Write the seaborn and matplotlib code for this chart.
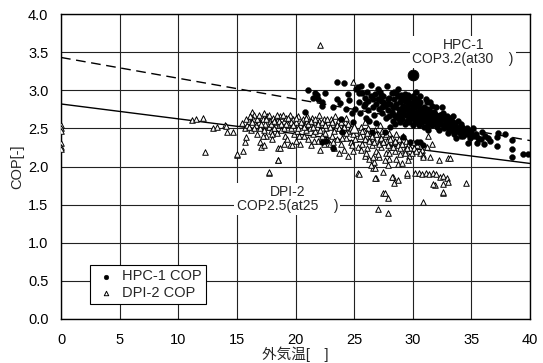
import matplotlib
matplotlib.use("Agg")
import matplotlib.pyplot as plt
import seaborn as sns
import pandas as pd

# ---------------- data ----------------
hpc_points = [
    (20.8,2.71),(21.1,3.00),(21.5,2.90),(21.7,2.96),(21.8,2.94),(22.3,2.85),(22.3,2.79),(22.5,2.96),(22.3,2.32),(22.6,2.34),(21.9,2.88),
    (23.2,2.24),(23.5,3.11),(24.1,3.10),(23.5,2.88),(23.8,2.83),(24.6,2.87),(24.3,2.76),(23.9,2.62),(24.8,2.70),(24.5,2.95),(23.2,2.78),(24.0,2.45),(24.9,2.58),
    (25.3,3.04),(25.7,2.96),(25.2,3.02),(25.6,3.06),(25.9,2.90),(26.4,3.07),(26.1,2.98),(25.4,2.85),(25.8,2.80),(26.2,2.74),(26.6,2.88),(26.8,2.95),(25.5,2.70),
    (26.0,2.64),(26.5,2.45),(26.9,2.82),(26.3,2.60),(25.1,2.76),(26.7,2.68),(27.0,3.02),(26.9,2.57),
    (27.2,2.98),(27.5,2.92),(27.8,3.05),(27.3,2.86),(27.6,2.80),(27.9,2.74),(28.2,2.96),(28.4,2.88),(28.7,2.92),(28.1,2.82),(28.5,2.78),(28.8,2.70),(27.4,2.70),
    (27.7,2.63),(28.0,2.66),(28.3,2.60),(28.6,2.65),(28.9,2.85),(27.6,2.45),(28.1,2.52),(28.9,2.58),(29.0,2.75),(29.2,2.39),(27.1,2.76),(28.4,2.98),(28.7,3.02),
    (29.1,2.92),(29.3,2.86),(29.5,2.80),(29.7,2.90),(29.9,2.76),(29.2,2.72),(29.4,2.68),(29.6,2.74),(29.8,2.64),(30.0,2.84),(30.2,2.78),(30.4,2.72),(30.6,2.68),
    (30.1,2.62),(30.3,2.66),(30.5,2.82),(30.7,2.76),(30.9,2.70),(29.5,2.60),(29.9,2.70),(30.2,2.58),(30.6,2.60),(30.8,2.64),(31.0,2.74),(29.3,2.95),(30.0,2.92),
    (30.4,2.88),(29.8,2.32),(30.4,2.32),(30.6,2.32),(30.9,2.28),(30.0,2.55),(29.6,2.85),(30.3,2.98),
    (31.2,2.85),(31.1,2.68),(31.3,2.62),(31.5,2.72),(31.7,2.66),(31.9,2.60),(31.4,2.58),(31.6,2.55),(31.8,2.70),(32.0,2.64),(32.2,2.58),(32.4,2.62),(32.5,2.78),
    (32.6,2.55),(32.8,2.60),(33.0,2.52),(31.2,2.76),(32.1,2.52),(32.3,2.68),(32.7,2.50),(33.2,2.58),(31.0,2.52),(31.6,2.80),(32.9,2.66),(31.3,2.48),
    (33.4,2.55),(33.6,2.50),(33.8,2.46),(34.0,2.52),(34.2,2.48),(34.4,2.44),(34.6,2.50),(33.5,2.42),(33.9,2.60),(34.3,2.40),(34.7,2.31),(34.8,2.44),(35.0,2.45),
    (35.2,2.40),(35.5,2.31),(35.9,2.45),(36.1,2.30),(33.3,2.64),(34.1,2.56),(35.1,2.50),(33.7,2.38),
    (37.2,2.39),(37.2,2.27),(37.3,2.44),(37.9,2.43),(38.5,2.35),(38.5,2.23),(38.5,2.12),(39.4,2.16),(39.8,2.16),(36.4,2.38),(36.6,2.34),
    (28.2,2.72),(28.4,2.68),(28.6,2.82),(28.8,2.76),(29.0,2.66),(29.0,2.88),(29.2,2.80),(29.4,2.76),(29.4,2.90),(29.6,2.66),(29.6,2.94),(29.8,2.82),(29.8,2.72),
    (30.0,2.66),(30.0,2.78),(30.2,2.70),(30.2,2.86),(30.4,2.62),(30.4,2.80),(30.6,2.74),(30.6,2.84),(30.8,2.76),(30.8,2.58),(31.0,2.62),(31.0,2.78),(31.2,2.70),
    (31.2,2.58),(31.4,2.66),(31.4,2.74),(31.6,2.62),(31.8,2.58),(31.8,2.72),(32.0,2.68),(32.0,2.56),(32.2,2.64),(32.4,2.56),(32.4,2.68),(32.6,2.62),(32.8,2.54),
    (32.8,2.64),(33.0,2.58),(33.2,2.50),(33.4,2.58),(33.6,2.54),(33.8,2.50),(34.0,2.44),(34.2,2.52),(34.4,2.48),(34.6,2.42),(34.8,2.46),(33.1,2.46),(33.5,2.46),
    (29.1,2.62),(29.3,2.56),(28.5,2.56),(27.9,2.88),(27.5,2.84),(27.3,2.94),(26.4,2.92),(25.9,2.82),(25.4,2.96),(26.2,2.86),(28.0,2.90),(28.6,2.96),(29.0,2.94),
    (29.5,2.88),(30.1,2.90),(30.6,2.92),(31.1,2.88),(31.5,2.84),(32.0,2.78),(32.6,2.70),(33.4,2.66),(35.4,2.42),(35.6,2.38),(35.8,2.36),(36.2,2.40),(34.9,2.38),
    (26.6,2.78),(27.0,2.88),(27.4,2.78),(27.8,2.82),(28.3,2.78),(28.8,2.62),(29.7,2.58),(30.5,2.54),(31.3,2.54),(32.2,2.48),(33.0,2.44),(34.1,2.40),
]
dpi_points = [
    (0,2.55),(0,2.51),(0,2.46),(0,2.31),(0,2.26),(0,2.23),
    (11.2,2.61),(11.5,2.62),(12.1,2.63),(12.3,2.19),(13.0,2.51),(13.3,2.52),(14.0,2.54),(14.1,2.53),(14.2,2.45),(14.7,2.45),(15.0,2.15),(15.0,2.16),(15.5,2.20),(15.4,2.57),
    (15.7,2.32),(15.8,2.39),(15.7,2.50),(15.9,2.55),(16.0,2.60),(16.3,2.71),(16.5,2.68),(16.4,2.62),(16.6,2.55),(16.2,2.48),(16.8,2.64),(16.9,2.58),(17.0,2.50),
    (17.0,2.32),(17.1,2.26),(17.3,2.28),(17.5,2.40),(17.2,2.62),(17.4,2.56),(17.6,2.66),(17.8,2.60),(17.7,2.52),(17.9,2.46),(17.7,1.91),(17.7,1.93),(16.7,2.42),
    (16.1,2.66),(17.3,2.70),
    (18.1,2.64),(18.3,2.58),(18.5,2.62),(18.7,2.66),(18.2,2.50),(18.4,2.44),(18.6,2.54),(18.8,2.48),(19.0,2.60),(19.2,2.64),(19.4,2.56),(19.6,2.50),(19.8,2.62),
    (20.0,2.58),(20.2,2.66),(18.5,2.24),(18.7,2.24),(18.5,2.09),(18.5,2.08),(19.5,2.28),(19.7,2.28),(19.1,2.40),(19.3,2.36),(19.9,2.42),(20.1,2.46),(20.3,2.40),
    (18.9,2.68),(19.5,2.68),(20.4,2.54),
    (20.6,2.62),(20.8,2.56),(21.0,2.60),(21.2,2.50),(21.4,2.64),(21.6,2.58),(21.8,2.52),(22.0,2.60),(22.2,2.56),(22.4,2.62),(22.6,2.50),(22.8,2.58),(20.7,2.40),
    (21.1,2.36),(21.5,2.42),(21.9,2.34),(22.3,2.40),(22.7,2.36),(21.3,2.28),(22.1,2.22),(22.9,2.30),(20.9,2.48),(21.7,2.46),(22.5,2.44),(22.1,3.59),(21.0,2.66),
    (22.0,2.68),
    (23.0,2.62),(23.2,2.56),(23.4,2.50),(23.6,2.60),(23.8,2.54),(24.0,2.48),(24.2,2.58),(24.4,2.52),(24.6,2.46),(24.8,2.56),(25.0,2.50),(25.2,2.44),(23.1,2.40),
    (23.5,2.36),(23.9,2.30),(24.3,2.38),(24.7,2.32),(25.1,2.36),(23.3,2.24),(23.7,2.18),(24.1,2.22),(24.5,2.14),(24.9,2.20),(25.3,2.26),(24.9,3.11),(25.3,1.91),
    (25.4,1.90),(23.4,2.66),(24.3,2.64),
    (25.6,2.52),(25.8,2.46),(26.0,2.40),(26.2,2.50),(26.4,2.44),(26.6,2.38),(26.8,2.48),(27.0,2.42),(27.2,2.36),(27.4,2.46),(27.6,2.40),(27.8,2.34),(25.7,2.30),
    (26.1,2.24),(26.5,2.28),(26.9,2.20),(27.3,2.26),(27.7,2.18),(25.9,2.14),(26.3,2.10),(26.7,2.06),(27.1,2.12),(27.5,1.93),(26.6,1.98),(26.8,1.98),(26.9,1.85),
    (27.5,1.65),(27.6,1.65),(27.9,1.59),(27.0,1.44),(27.9,1.39),(26.8,1.85),(25.9,2.58),(27.2,2.55),(27.9,2.02),(26.4,2.02),
    (28.0,2.44),(28.2,2.38),(28.4,2.32),(28.6,2.42),(28.8,2.36),(29.0,2.30),(29.2,2.40),(29.4,2.34),(29.6,2.28),(29.8,2.24),(30.0,2.32),(28.1,2.26),(28.5,2.20),
    (28.9,2.16),(29.3,2.22),(29.7,2.14),(28.3,1.86),(28.2,1.86),(28.7,2.03),(28.7,1.82),(28.4,1.78),(29.5,1.89),(29.5,1.91),(30.2,1.91),(28.0,2.10),(29.1,2.05),
    (30.4,2.28),(30.8,2.22),(31.2,2.26),(30.6,2.18),(30.9,2.15),(30.9,2.13),(31.5,2.13),(31.6,2.30),(32.2,2.09),(33.0,2.11),(33.2,2.11),(30.5,1.91),(30.8,1.90),
    (31.1,1.91),(31.4,1.90),(31.7,1.92),(32.0,1.90),(32.3,1.86),(32.6,1.88),(32.9,1.85),(33.0,1.80),(31.9,1.76),(31.7,1.77),(32.6,1.77),(32.6,1.65),(32.6,1.67),
    (34.5,1.78),(30.9,1.53),(31.3,2.40),
    (16.3,2.58),(16.5,2.50),(16.7,2.62),(16.9,2.68),(17.1,2.56),(17.3,2.48),(17.5,2.62),(17.7,2.68),(17.9,2.56),(18.0,2.42),(18.2,2.60),(18.4,2.68),(18.6,2.60),
    (18.8,2.56),(19.0,2.50),(19.2,2.56),(19.4,2.64),(19.6,2.58),(19.8,2.54),(20.0,2.64),(20.2,2.50),(16.0,2.52),(15.8,2.62),(17.2,2.40),(18.0,2.36),(19.0,2.30),
    (20.0,2.34),
    (20.5,2.58),(20.7,2.52),(20.9,2.64),(21.1,2.56),(21.3,2.60),(21.5,2.52),(21.7,2.62),(21.9,2.56),(22.1,2.48),(22.3,2.58),(22.5,2.54),(22.7,2.62),(22.9,2.52),
    (23.1,2.58),(23.3,2.46),(23.5,2.54),(23.7,2.50),(23.9,2.58),(24.1,2.52),(24.3,2.44),(24.5,2.56),(24.7,2.50),(24.9,2.42),(21.6,2.34),(22.4,2.30),(23.2,2.32),
    (24.0,2.38),(24.8,2.28),(20.4,2.30),
    (25.5,2.40),(25.7,2.46),(25.9,2.36),(26.1,2.44),(26.3,2.34),(26.5,2.40),(26.7,2.32),(26.9,2.42),(27.1,2.30),(27.3,2.38),(27.5,2.32),(27.7,2.42),(27.9,2.28),
    (28.1,2.36),(28.3,2.26),(28.5,2.34),(28.7,2.28),(28.9,2.24),(29.1,2.30),(29.3,2.18),(29.5,2.24),(29.9,2.18),(30.1,2.24),(26.0,2.18),(27.0,2.16),(28.0,2.18),
    (25.6,2.22),(26.6,2.12),(27.6,2.08),(28.6,2.10),(29.6,2.08),(30.3,2.20),
]
hpc_rated = (30, 3.2)
dpi_rated = (25, 2.5)
fit_x = [0, 40]
hpc_fit = [3.43, 2.34]
dpi_fit = [2.82, 2.04]

x_ticks = [0, 5, 10, 15, 20, 25, 30, 35, 40]
y_ticks = [0.0, 0.5, 1.0, 1.5, 2.0, 2.5, 3.0, 3.5, 4.0]

hpc_df = pd.DataFrame(hpc_points, columns=["temp", "cop"])
dpi_df = pd.DataFrame(dpi_points, columns=["temp", "cop"])

# ---------------- plot ----------------
sns.set_style("white")
plt.rcParams["font.family"] = ["Liberation Sans", "Noto Sans CJK JP", "DejaVu Sans"]

fig = plt.figure(figsize=(5.43, 3.63), dpi=100)
ax = fig.add_axes([61/543, 1-319/363, 469/543, 305/363])

sns.lineplot(x=fit_x, y=hpc_fit, ax=ax, color="black", lw=1.0, linestyle=(0, (7, 4)), legend=False, zorder=2)
sns.lineplot(x=fit_x, y=dpi_fit, ax=ax, color="black", lw=1.0, legend=False, zorder=2)

sns.scatterplot(data=dpi_df, x="temp", y="cop", ax=ax, marker="^", s=16,
                facecolor="white", edgecolor="black", linewidth=0.7, label="DPI-2 COP", zorder=3)
sns.scatterplot(data=hpc_df, x="temp", y="cop", ax=ax, marker="o", s=18,
                color="black", edgecolor="black", linewidth=0.3, label="HPC-1 COP", zorder=4)
sns.scatterplot(x=[hpc_rated[0]], y=[hpc_rated[1]], ax=ax, marker="o", s=60,
                color="black", edgecolor="black", legend=False, zorder=5)
sns.scatterplot(x=[dpi_rated[0]], y=[dpi_rated[1]], ax=ax, marker="^", s=45,
                facecolor="white", edgecolor="black", linewidth=0.8, legend=False, zorder=5)

ax.set_xlim(0, 40)
ax.set_ylim(0, 4.0)
ax.set_xticks(x_ticks)
ax.set_yticks(y_ticks)
ax.set_xticklabels([str(t) for t in x_ticks])
ax.set_yticklabels([f"{t:.1f}" for t in y_ticks])
ax.tick_params(axis="x", length=0, labelsize=10.5, pad=10, colors="black")
ax.tick_params(axis="y", length=0, labelsize=10.5, pad=9, colors="black")
ax.grid(True, color="#222222", lw=0.8)
ax.set_axisbelow(True)
for sp in ax.spines.values():
    sp.set_color("black")
    sp.set_linewidth(1.0)

ax.set_xlabel("外気温[　]", fontsize=10.5, labelpad=0)
ax.set_ylabel("COP[-]", fontsize=10.5, labelpad=3)

ax.text(34.3, 3.5, "HPC-1\nCOP3.2(at30    )", ha="center", va="center", fontsize=10,
        linespacing=1.0, bbox=dict(facecolor="white", edgecolor="none", pad=1.5), zorder=6)
ax.text(19.3, 1.57, "DPI-2\nCOP2.5(at25    )", ha="center", va="center", fontsize=10,
        linespacing=1.0, bbox=dict(facecolor="white", edgecolor="none", pad=1.5), zorder=6)

handles, labels = ax.get_legend_handles_labels()
order = [labels.index("HPC-1 COP"), labels.index("DPI-2 COP")]
leg = ax.legend([handles[i] for i in order], [labels[i] for i in order],
                loc="lower left", bbox_to_anchor=(0.062, 0.049), borderaxespad=0,
                fontsize=10.5, frameon=True, fancybox=False, edgecolor="black",
                framealpha=1, handletextpad=0.3, borderpad=0.3, labelspacing=0.15,
                markerscale=0.8, handlelength=1.6)
leg.get_frame().set_linewidth(0.8)
leg.set_zorder(7)

fig.savefig("out.png", dpi=100)
